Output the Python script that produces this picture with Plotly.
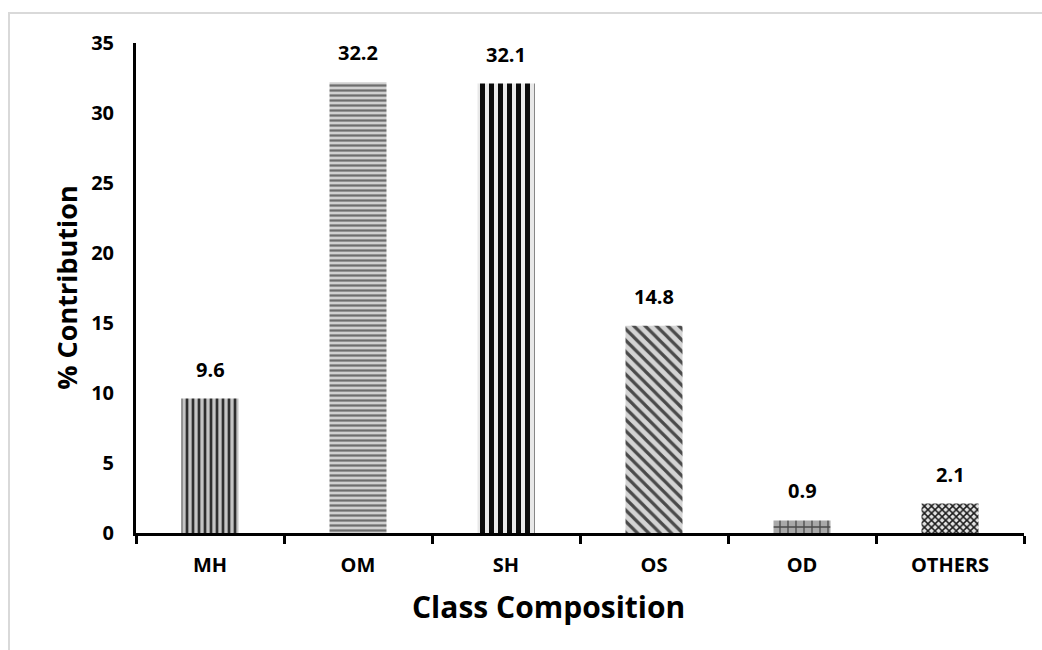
import plotly.graph_objects as go

# Class composition of the oil and each class's share
categories = ["MH", "OM", "SH", "OS", "OD", "OTHERS"]
contribution = [9.6, 32.2, 32.1, 14.8, 0.9, 2.1]
value_labels = ["9.6", "32.2", "32.1", "14.8", "0.9", "2.1"]
y_ticks = [0, 5, 10, 15, 20, 25, 30, 35]

# Fill pattern per bar (shape, foreground, background, size, solidity)
patterns = [
    ("|", "#2e2e2e", "#c4c4c4", 6, 0.45),
    ("-", "#6e6e6e", "#d0d0d0", 5, 0.45),
    ("|", "#0a0a0a", "#e8e8e8", 9, 0.55),
    ("\\", "#4a4a4a", "#d4d4d4", 8, 0.4),
    ("+", "#4a4a4a", "#a8a8a8", 8, 0.3),
    ("x", "#1a1a1a", "#e4e4e4", 5, 0.5),
]

FONT = "Open Sans"

fig = go.Figure()
for cat, val, (shape, fg, bg, size, sol) in zip(categories, contribution, patterns):
    fig.add_trace(go.Bar(
        x=[cat],
        y=[val],
        width=0.385,
        marker=dict(
            color=bg,
            line=dict(width=0),
            pattern=dict(
                shape=shape, fgcolor=fg, bgcolor=bg,
                size=size, solidity=sol,
                fillmode="overlay", fgopacity=1,
            ),
        ),
        showlegend=False,
        hoverinfo="x+y",
    ))

# value labels above each bar
for cat, val, lab in zip(categories, contribution, value_labels):
    fig.add_annotation(
        x=cat, y=val, text=f"<b>{lab}</b>", showarrow=False,
        yanchor="bottom", yshift=14,
        font=dict(family=FONT, size=20, color="#000000"),
    )

# axis titles
fig.add_annotation(
    xref="paper", yref="paper", x=-0.079, y=0.5,
    xanchor="center", yanchor="middle",
    text="<b>% Contribution</b>", textangle=-90, showarrow=False,
    font=dict(family=FONT, size=27, color="#000000"),
)
fig.add_annotation(
    xref="paper", yref="paper", x=0.465, y=-0.149,
    xanchor="center", yanchor="middle",
    text="<b>Class Composition</b>", showarrow=False,
    font=dict(family=FONT, size=30, color="#000000"),
)

# light frame around the chart area
fig.add_shape(
    type="rect", xref="paper", yref="paper",
    x0=-0.143, x1=1.3, y0=-1.0, y1=1.0612,
    line=dict(color="#d9d9d9", width=2), fillcolor="rgba(0,0,0,0)",
    layer="below",
)

fig.update_layout(
    width=1042, height=650,
    margin=dict(l=136, r=18, t=43, b=117),
    paper_bgcolor="#ffffff", plot_bgcolor="#ffffff",
    barmode="overlay",
    font=dict(family=FONT, color="#000000"),
)

fig.update_xaxes(
    type="category",
    categoryorder="array", categoryarray=categories,
    showline=True, linecolor="#000000", linewidth=3,
    ticks="outside", tickson="boundaries", ticklen=8, tickwidth=3, tickcolor="#000000",
    tickfont=dict(family=FONT, size=20, color="#000000"),
    tickprefix="<b>", ticksuffix="</b>",
    showgrid=False, zeroline=False,
    ticklabelstandoff=12,
)
fig.update_yaxes(
    range=[0, 35],
    tickvals=y_ticks,
    ticktext=[f"<b>{t}</b>" for t in y_ticks],
    showline=True, linecolor="#000000", linewidth=3,
    ticks="", showgrid=False, zeroline=False,
    tickfont=dict(family=FONT, size=20, color="#000000"),
    ticklabelstandoff=15,
)

fig.write_html("out.html")
